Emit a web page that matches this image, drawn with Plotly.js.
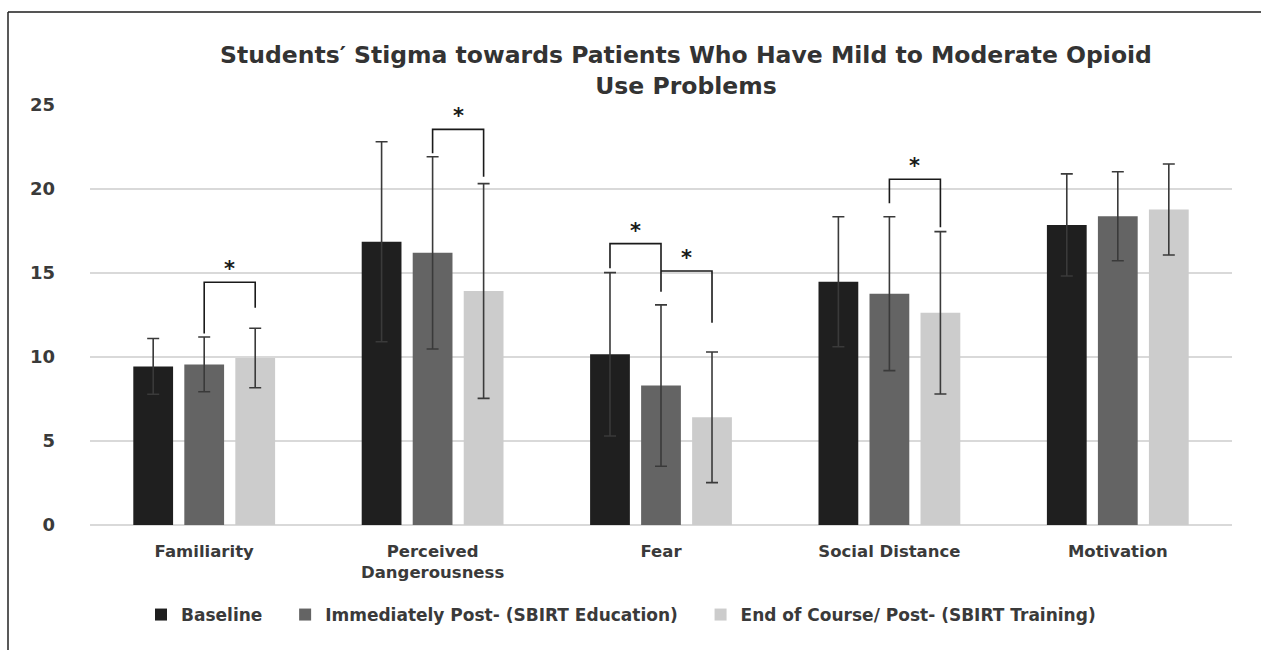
<!DOCTYPE html>
<html>
<head>
<meta charset="utf-8">
<script src="https://cdn.plot.ly/plotly-3.0.1.min.js"></script>
<style>html,body{margin:0;padding:0;background:#fff;}#chart{width:1261px;height:650px;}</style>
</head>
<body>
<div id="chart"></div>
<script>
// ---- data ----
const categories = ["Familiarity", "Perceived<br>Dangerousness", "Fear", "Social Distance", "Motivation"];
const seriesNames = ["Baseline", "Immediately Post- (SBIRT Education)", "End of Course/ Post- (SBIRT Training)"];
const baseline = [9.44, 16.86, 10.16, 14.48, 17.86];
const baselineSD = [1.66, 5.95, 4.86, 3.87, 3.04];
const immediate = [9.56, 16.2, 8.3, 13.77, 18.38];
const immediateSD = [1.63, 5.72, 4.8, 4.58, 2.65];
const endCourse = [9.94, 13.93, 6.41, 12.63, 18.78];
const endCourseSD = [1.77, 6.39, 3.89, 4.83, 2.71];
const yTicks = [0, 5, 10, 15, 20, 25];
// significance brackets: [category index, from series, to series, top y, left leg bottom, right leg bottom]
const brackets = [
  [0, 1, 2, 14.45, 11.4, 12.93],
  [1, 1, 2, 23.55, 22.13, 20.73],
  [2, 0, 1, 16.75, 15.28, 13.89],
  [2, 1, 2, 15.12, 15.12, 12.04],
  [3, 1, 2, 20.58, 19.15, 17.73]
];

// ---- styles ----
const colors = ["#1f1f1f", "#646464", "#cccccc"];
const font = "DejaVu Sans, Verdana, sans-serif";
const textColor = "#3a3a3a";
const bargap = 0.33;
const nSeries = 3;
const legendPad = "&nbsp;&nbsp;&nbsp;";

const values = [baseline, immediate, endCourse];
const sds = [baselineSD, immediateSD, endCourseSD];

const traces = values.map((v, i) => ({
  type: "bar",
  name: seriesNames[i] + (i < nSeries - 1 ? legendPad : ""),
  x: categories,
  y: v,
  marker: {color: colors[i]},
  error_y: {type: "data", array: sds[i], visible: true, color: "#3a3a3a", thickness: 1.6, width: 6},
  hoverinfo: "y"
}));

const slot = (1 - bargap) / nSeries;
const xpos = (c, s) => c + (s - (nSeries - 1) / 2) * slot;

const shapes = [];
const annotations = [];
brackets.forEach(b => {
  const [c, s1, s2, top, lb, rb] = b;
  const x1 = xpos(c, s1), x2 = xpos(c, s2);
  shapes.push({
    type: "path", xref: "x", yref: "y",
    path: `M ${x1},${lb} L ${x1},${top} L ${x2},${top} L ${x2},${rb}`,
    line: {color: "#1a1a1a", width: 1.6}
  });
  annotations.push({
    xref: "x", yref: "y", x: (x1 + x2) / 2, y: top, yanchor: "bottom",
    text: "*", showarrow: false, yshift: -1,
    font: {family: font, size: 21, color: "#1a1a1a", weight: "bold"}
  });
});

// frame lines (top and left)
shapes.push({type: "line", xref: "paper", yref: "paper",
  x0: (8 - 90) / 1142, x1: (1261 - 90) / 1142, y0: (525 - 12) / 420, y1: (525 - 12) / 420,
  line: {color: "#555555", width: 2}});
shapes.push({type: "line", xref: "paper", yref: "paper",
  x0: (8 - 90) / 1142, x1: (8 - 90) / 1142, y0: (525 - 12) / 420, y1: (525 - 650) / 420,
  line: {color: "#222222", width: 1.5}});

const layout = {
  width: 1261, height: 650,
  margin: {l: 90, r: 29, t: 105, b: 125},
  paper_bgcolor: "#ffffff", plot_bgcolor: "#ffffff",
  barmode: "group", bargap: bargap, bargroupgap: 0.22,
  font: {family: font, color: textColor},
  title: {
    text: "Students′ Stigma towards Patients Who Have Mild to Moderate Opioid<br>Use Problems",
    x: (686 - 90) / 1142, xanchor: "center", xref: "paper",
    y: 1 - 63 / 650, yanchor: "middle", yref: "container",
    font: {family: font, size: 23.5, color: "#333333", weight: "bold"}
  },
  xaxis: {
    type: "category",
    showgrid: false, showline: false, zeroline: false, ticks: "",
    ticklabelstandoff: 14,
    tickfont: {family: font, size: 16.5, color: textColor, weight: "bold"}
  },
  yaxis: {
    range: [0, 25], tickvals: yTicks, ticktext: yTicks.map(String),
    showgrid: true, gridcolor: "#d9d9d9", gridwidth: 1.5,
    zeroline: true, zerolinecolor: "#d9d9d9", zerolinewidth: 1.5,
    showline: false, ticks: "", ticklabelstandoff: 34,
    tickfont: {family: font, size: 18, color: textColor, weight: "bold"}
  },
  legend: {
    orientation: "h", x: (621 - 90) / 1142, xanchor: "center",
    y: -(615 - 525) / 420, yanchor: "middle",
    font: {family: font, size: 17, color: textColor, weight: "bold"},
    itemwidth: 30, traceorder: "normal"
  },
  shapes: shapes,
  annotations: annotations,
  showlegend: true
};

Plotly.newPlot("chart", traces, layout, {displayModeBar: false, staticPlot: true});
</script>
</body>
</html>
